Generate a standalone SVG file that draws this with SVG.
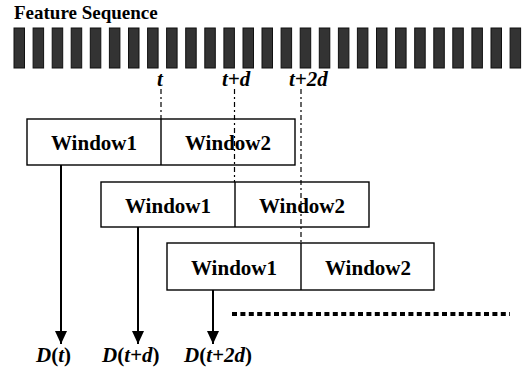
<svg xmlns="http://www.w3.org/2000/svg" xmlns:xlink="http://www.w3.org/1999/xlink" width="522" height="370" viewBox="0 0 522 370">
  <defs>
    <style>
      .t { font-weight: bold; fill: #000; }
      .ital { font-style: italic; }
      .up { font-style: normal; }
      .bar { fill: #333; stroke: #111; stroke-width: 1; }
      .box { fill: none; stroke: #000; stroke-width: 1.4; }
      .arrow { stroke: #000; stroke-width: 2; fill: none; marker-end: url(#head); }
      .guide { stroke: #000; stroke-width: 1.2; stroke-dasharray: 5 3 2 3; fill: none; }
      .etc { stroke: #000; stroke-width: 4; stroke-dasharray: 5 3.4; fill: none; }
    </style>
    <rect id="frame" class="bar" width="10.5" height="40"/>
    <marker id="head" markerWidth="13" markerHeight="12" refX="13" refY="6" orient="auto" markerUnits="userSpaceOnUse" viewBox="0 0 13 12">
      <path d="M0,0 L13,6 L0,12 Z" fill="#000"/>
    </marker>
  </defs>

  <g font-family="Liberation Serif, Times New Roman, serif">
  <!-- title -->
  <g id="title">
    <text class="t" x="14" y="19" font-size="19">Feature Sequence</text>
  </g>

  <!-- sequence of feature frames -->
  <g id="sequence" transform="translate(0,28)">
    <use xlink:href="#frame" x="14"/>
    <use xlink:href="#frame" x="33.1"/>
    <use xlink:href="#frame" x="52.2"/>
    <use xlink:href="#frame" x="71.2"/>
    <use xlink:href="#frame" x="90.3"/>
    <use xlink:href="#frame" x="109.4"/>
    <use xlink:href="#frame" x="128.5"/>
    <use xlink:href="#frame" x="147.6"/>
    <use xlink:href="#frame" x="166.6"/>
    <use xlink:href="#frame" x="185.7"/>
    <use xlink:href="#frame" x="204.8"/>
    <use xlink:href="#frame" x="223.9"/>
    <use xlink:href="#frame" x="243"/>
    <use xlink:href="#frame" x="262"/>
    <use xlink:href="#frame" x="281.1"/>
    <use xlink:href="#frame" x="300.2"/>
    <use xlink:href="#frame" x="319.3"/>
    <use xlink:href="#frame" x="338.4"/>
    <use xlink:href="#frame" x="357.4"/>
    <use xlink:href="#frame" x="376.5"/>
    <use xlink:href="#frame" x="395.6"/>
    <use xlink:href="#frame" x="414.7"/>
    <use xlink:href="#frame" x="433.8"/>
    <use xlink:href="#frame" x="452.8"/>
    <use xlink:href="#frame" x="471.9"/>
    <use xlink:href="#frame" x="491"/>
    <use xlink:href="#frame" x="510.1"/>
  </g>

  <!-- time marks -->
  <g id="mark-t"><text class="t ital" x="157" y="86" font-size="21">t</text></g>
  <g id="mark-t-d"><text class="t ital" x="222" y="86" font-size="21">t+d</text></g>
  <g id="mark-t-2d"><text class="t ital" x="289" y="86" font-size="21">t+2d</text></g>

  <!-- window pairs -->
  <g id="pair1">
    <rect class="box" x="27" y="119" width="268" height="46"/>
    <line class="box" x1="161" y1="119" x2="161" y2="165"/>
    <text class="t" x="94" y="150" font-size="21" text-anchor="middle">Window1</text>
    <text class="t" x="228" y="150" font-size="21" text-anchor="middle">Window2</text>
  </g>
  <g id="pair2">
    <rect class="box" x="101" y="182" width="268" height="45"/>
    <line class="box" x1="235" y1="182" x2="235" y2="227"/>
    <text class="t" x="168" y="213" font-size="21" text-anchor="middle">Window1</text>
    <text class="t" x="302" y="213" font-size="21" text-anchor="middle">Window2</text>
  </g>
  <g id="pair3">
    <rect class="box" x="167" y="243" width="267" height="47"/>
    <line class="box" x1="301" y1="243" x2="301" y2="290"/>
    <text class="t" x="234" y="275" font-size="21" text-anchor="middle">Window1</text>
    <text class="t" x="368" y="275" font-size="21" text-anchor="middle">Window2</text>
  </g>

  <!-- distance outputs -->
  <g id="out1">
    <text class="t" x="36" y="362" font-size="21"><tspan class="ital">D</tspan><tspan class="up">(</tspan><tspan class="ital">t</tspan><tspan class="up">)</tspan></text>
  </g>
  <g id="out2">
    <text class="t" x="102" y="362" font-size="21"><tspan class="ital">D</tspan><tspan class="up">(</tspan><tspan class="ital">t+d</tspan><tspan class="up">)</tspan></text>
  </g>
  <g id="out3">
    <text class="t" x="184" y="362" font-size="21"><tspan class="ital">D</tspan><tspan class="up">(</tspan><tspan class="ital">t+2d</tspan><tspan class="up">)</tspan></text>
  </g>
  </g>

  <!-- connectors -->
  <g id="connectors">
    <line class="guide" x1="161" y1="89" x2="161" y2="119"/>
    <line class="guide" x1="234.5" y1="89" x2="234.5" y2="182"/>
    <line class="guide" x1="301" y1="89" x2="301" y2="243"/>
    <line class="arrow" x1="61" y1="165" x2="61" y2="344"/>
    <line class="arrow" x1="138" y1="227" x2="138" y2="344"/>
    <line class="arrow" x1="213" y1="290" x2="213" y2="344"/>
    <line class="etc" x1="232" y1="314" x2="510" y2="314"/>
  </g>
</svg>
